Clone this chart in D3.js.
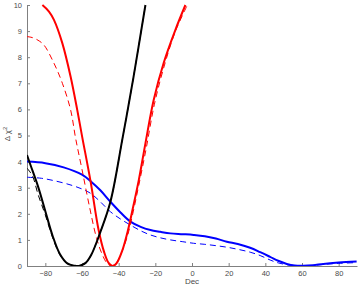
<!DOCTYPE html>
<html><head><meta charset="utf-8">
<script src="https://cdn.jsdelivr.net/npm/d3@7/dist/d3.min.js"></script>
<style>body{margin:0;background:#fff}svg{display:block}</style>
</head><body>
<script>
const xTicks = [-80,-60,-40,-20,0,20,40,60,80];
const yTicks = [0,1,2,3,4,5,6,7,8,9,10];

const blackSolidX = [-90,-88,-84,-80,-76,-72,-68,-64,-61.7,-58,-55,-50,-44.5,-38,-32,-25.4];
const blackSolidY = [4.25,3.85,3.05,2.1,1.15,0.45,0.1,0.01,0,0.12,0.42,1.3,2.46,4.85,7.2,10];
const blackDashX = [-90,-87,-84,-80,-76,-72,-68,-64,-61.7,-58,-55,-50,-44.5,-38,-32,-25.4];
const blackDashY = [3.75,3.45,2.75,1.95,1.08,0.42,0.09,0.01,0,0.12,0.42,1.3,2.46,4.85,7.2,10];

const redSolidX = [-81.6,-78,-75.3,-70.7,-66.2,-62.6,-59.9,-55.3,-51,-48,-45.5,-43.2,-41,-38,-35,-32,-29,-25.4,-20.9,-15.5,-9.1,-3.6];
const redSolidY = [10,9.75,9.43,8.53,7.25,5.98,4.95,3.23,1.4,0.55,0.12,0,0.12,0.6,1.35,2.3,3.3,4.7,6.36,7.77,9.04,10];
const redDashX = [-90,-87,-84,-80.8,-75.3,-70.7,-66.2,-63.5,-60,-56,-52,-49,-46.5,-44,-41.5,-38.5,-35,-32,-29,-25,-20.5,-15,-9,-2.5];
const redDashY = [8.79,8.75,8.65,8.47,7.77,7.0,5.98,4.9,3.7,2.3,1.05,0.45,0.12,0,0.1,0.5,1.2,2.1,3.1,4.5,6.2,7.7,9.0,10];

const blueSolidX = [-90,-80,-70,-60,-55,-50,-44.5,-39,-33.6,-28,-22.7,-17.3,-11.8,-5,0.9,7,13,19,25,31.7,37.2,42.6,47,51.7,56,60.7,66,71.6,80,89.8];
const blueSolidY = [4.0,3.94,3.78,3.5,3.23,2.9,2.46,2.05,1.70,1.5,1.38,1.31,1.25,1.22,1.19,1.14,1.05,0.93,0.84,0.7,0.53,0.35,0.2,0.08,0.02,0.01,0.03,0.08,0.13,0.17];
const blueDashX = [-90,-82,-74,-66,-60,-55,-50,-44.5,-39,-33.6,-28,-22.7,-17.3,-11.8,-5,0.9,7,13,19,25,31.7,37.2,42.6,47,51.7,56,60.7,66,71.6,80,89.8];
const blueDashY = [3.4,3.36,3.25,3.1,2.95,2.77,2.46,2.08,1.8,1.57,1.35,1.19,1.08,1.0,0.93,0.87,0.83,0.78,0.72,0.64,0.53,0.4,0.23,0.12,0.05,0.02,0.0,0.02,0.06,0.1,0.13];

const W = 360, H = 290;
const m = {l:27, r:3, t:5, b:24};
const svg = d3.select("body").append("svg").attr("width",W).attr("height",H);
const x = d3.scaleLinear().domain([-90,90]).range([m.l, W-m.r]);
const y = d3.scaleLinear().domain([0,10]).range([H-m.b, m.t]);

svg.append("defs").append("clipPath").attr("id","clip")
  .append("rect").attr("x",m.l).attr("y",m.t-2).attr("width",W-m.l-m.r).attr("height",H-m.t-m.b+2);

const fontFam = "'Liberation Sans', Arial, sans-serif";
const axCol = "#808080", txtCol = "#4a4a4a";

const xa = svg.append("g").attr("transform",`translate(0,${H-m.b})`)
  .call(d3.axisBottom(x).tickValues(xTicks).tickSizeInner(-3).tickSizeOuter(0).tickPadding(5));
const ya = svg.append("g").attr("transform",`translate(${m.l},0)`)
  .call(d3.axisLeft(y).tickValues(yTicks).tickSizeInner(-3).tickSizeOuter(0).tickPadding(5));
[xa,ya].forEach(a=>{
  a.select(".domain").attr("stroke",axCol);
  a.selectAll(".tick line").attr("stroke",axCol);
  a.selectAll(".tick text").attr("fill",txtCol).style("font-family",fontFam).style("font-size","7.5px");
});

svg.append("text").attr("x",(x(-90)+x(90))/2).attr("y",284).attr("text-anchor","middle")
  .attr("fill",txtCol).style("font-family",fontFam).style("font-size","8px").text("Dec");

const yl = svg.append("text").attr("transform","translate(10,134) rotate(-90)").attr("text-anchor","middle")
  .attr("fill",txtCol).style("font-family",fontFam).style("font-size","8px");
yl.append("tspan").text("Δ χ");
yl.append("tspan").attr("dy",-3).style("font-size","6px").text("2");

const g = svg.append("g").attr("clip-path","url(#clip)");
const line = d3.line().x(d=>x(d[0])).y(d=>y(d[1])).curve(d3.curveCatmullRom.alpha(0.5));
function draw(xs, ys, color, dashed){
  g.append("path").datum(xs.map((v,i)=>[v,ys[i]]))
    .attr("d",line).attr("fill","none").attr("stroke",color)
    .attr("stroke-width",dashed?1:2)
    .attr("stroke-dasharray",dashed?"6,4":null)
    .attr("stroke-linejoin","round");
}
draw(blueDashX, blueDashY, "#0000ff", true);
draw(blueSolidX, blueSolidY, "#0000ff", false);
draw(redDashX, redDashY, "#ff0000", true);
draw(redSolidX, redSolidY, "#ff0000", false);
draw(blackDashX, blackDashY, "#000000", true);
draw(blackSolidX, blackSolidY, "#000000", false);
</script>
</body></html>
